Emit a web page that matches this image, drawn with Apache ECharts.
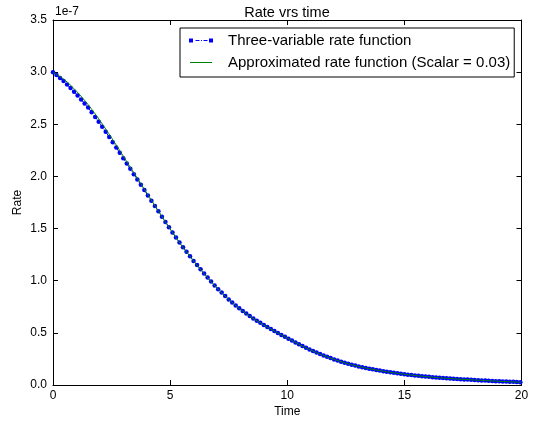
<!DOCTYPE html>
<html>
<head>
<meta charset="utf-8">
<script src="https://cdn.jsdelivr.net/npm/echarts@6/dist/echarts.min.js"></script>
<style>
  html, body { margin: 0; padding: 0; background: #fff; }
  #chart { width: 534px; height: 424px; }
</style>
</head>
<body>
<div id="chart"></div>
<script>
// Sample times of the three-variable model
const timeThreeVar = [
  0, 0.15, 0.3, 0.45, 0.6, 0.75, 0.9, 1.05, 1.2, 1.35,
  1.5, 1.65, 1.8, 1.95, 2.1, 2.25, 2.4, 2.55, 2.7, 2.85,
  3, 3.15, 3.3, 3.45, 3.6, 3.75, 3.9, 4.05, 4.2, 4.35,
  4.5, 4.65, 4.8, 4.95, 5.1, 5.25, 5.4, 5.55, 5.7, 5.85,
  6, 6.15, 6.3, 6.45, 6.6, 6.75, 6.9, 7.05, 7.2, 7.35,
  7.5, 7.65, 7.8, 7.95, 8.1, 8.25, 8.4, 8.55, 8.7, 8.85,
  9, 9.15, 9.3, 9.45, 9.6, 9.75, 9.9, 10.05, 10.2, 10.35,
  10.5, 10.65, 10.8, 10.95, 11.1, 11.25, 11.4, 11.55, 11.7, 11.85,
  12, 12.15, 12.3, 12.45, 12.6, 12.75, 12.9, 13.05, 13.2, 13.35,
  13.5, 13.65, 13.8, 13.95, 14.1, 14.25, 14.4, 14.55, 14.7, 14.85,
  15, 15.15, 15.3, 15.45, 15.6, 15.75, 15.9, 16.05, 16.2, 16.35,
  16.5, 16.65, 16.8, 16.95, 17.1, 17.25, 17.4, 17.55, 17.7, 17.85,
  18, 18.15, 18.3, 18.45, 18.6, 18.75, 18.9, 19.05, 19.2, 19.35,
  19.5, 19.65, 19.8, 19.95
];
// Rate of the three-variable model, in units of 1e-7
const rateThreeVar = [
  3.000, 2.972, 2.943, 2.915, 2.882, 2.848, 2.813, 2.777, 2.738, 2.699,
  2.660, 2.615, 2.570, 2.525, 2.477, 2.428, 2.378, 2.328, 2.277, 2.226,
  2.175, 2.124, 2.073, 2.022, 1.971, 1.920, 1.869, 1.818, 1.767, 1.716,
  1.665, 1.614, 1.563, 1.512, 1.463, 1.415, 1.367, 1.321, 1.277, 1.234,
  1.190, 1.150, 1.109, 1.069, 1.030, 0.993, 0.955, 0.919, 0.886, 0.853,
  0.820, 0.792, 0.763, 0.735, 0.709, 0.685, 0.661, 0.638, 0.617, 0.596,
  0.575, 0.556, 0.536, 0.517, 0.498, 0.480, 0.462, 0.444, 0.426, 0.408,
  0.390, 0.374, 0.357, 0.341, 0.325, 0.311, 0.297, 0.283, 0.270, 0.258,
  0.245, 0.235, 0.224, 0.214, 0.204, 0.195, 0.186, 0.178, 0.170, 0.163,
  0.156, 0.150, 0.144, 0.138, 0.132, 0.127, 0.122, 0.117, 0.112, 0.108,
  0.103, 0.099, 0.095, 0.091, 0.088, 0.085, 0.081, 0.078, 0.075, 0.072,
  0.069, 0.067, 0.064, 0.062, 0.060, 0.058, 0.055, 0.053, 0.052, 0.050,
  0.048, 0.046, 0.044, 0.043, 0.041, 0.039, 0.037, 0.036, 0.034, 0.033,
  0.031, 0.030, 0.028, 0.027
];
// Sample times of the approximated rate function
const timeApprox = [
  0, 0.5, 1, 1.5, 2, 2.5, 3, 3.5, 4, 4.5,
  5, 5.5, 6, 6.5, 7, 7.5, 8, 8.5, 9, 9.5,
  10, 10.5, 11, 11.5, 12, 12.5, 13, 13.5, 14, 14.5,
  15, 15.5, 16, 16.5, 17, 17.5, 18, 18.5, 19, 19.5, 20
];
// Approximated rate (Scalar = 0.03), in units of 1e-7
const rateApprox = [
  3.000, 2.925, 2.818, 2.688, 2.537, 2.370, 2.195, 2.018, 1.842, 1.668,
  1.496, 1.335, 1.190, 1.055, 0.930, 0.820, 0.725, 0.645, 0.575, 0.510,
  0.450, 0.390, 0.335, 0.287, 0.245, 0.210, 0.180, 0.156, 0.136, 0.118,
  0.103, 0.090, 0.079, 0.069, 0.061, 0.054, 0.048, 0.042, 0.036, 0.031, 0.026
];
const xTicks = { min: 0, max: 20, interval: 5 };
const yTicks = { min: 0, max: 3.5, interval: 0.5 };

const FONT = 'Liberation Sans, Arial, sans-serif';
const zip = (xs, ys) => xs.map((x, i) => [x, ys[i]]);

const chart = echarts.init(document.getElementById('chart'), null, { renderer: 'canvas' });

// Black frame with short inward ticks on all four sides
function frame() {
  return {
    axisLine: { show: true, onZero: false, lineStyle: { color: '#000', width: 1 } },
    axisTick: { show: true, inside: true, length: 5, lineStyle: { color: '#000', width: 1 } },
    splitLine: { show: false }
  };
}

chart.setOption({
  animation: false,
  backgroundColor: '#fff',
  textStyle: { fontFamily: FONT },
  title: {
    text: 'Rate vrs time',
    left: 282,
    top: 0,
    textAlign: 'center',
    textStyle: { fontFamily: FONT, fontSize: 14.5, fontWeight: 'normal', color: '#000' }
  },
  grid: { left: 53, right: 12.5, top: 20, bottom: 39, containLabel: false },
  xAxis: [
    Object.assign(frame(), {
      type: 'value', position: 'bottom',
      min: xTicks.min, max: xTicks.max, interval: xTicks.interval,
      name: 'Time', nameLocation: 'middle', nameGap: 21, nameMoveOverlap: false,
      nameTextStyle: { fontFamily: FONT, fontSize: 12, color: '#000' },
      axisLabel: { fontFamily: FONT, fontSize: 12, color: '#000', margin: 5, inside: false }
    }),
    Object.assign(frame(), {
      type: 'value', position: 'top',
      min: xTicks.min, max: xTicks.max, interval: xTicks.interval,
      axisLabel: { show: false }
    })
  ],
  yAxis: [
    Object.assign(frame(), {
      type: 'value', position: 'left',
      min: yTicks.min, max: yTicks.max, interval: yTicks.interval,
      name: 'Rate', nameLocation: 'middle', nameGap: 29, nameMoveOverlap: false,
      nameTextStyle: { fontFamily: FONT, fontSize: 12, color: '#000' },
      axisLabel: { fontFamily: FONT, fontSize: 12, color: '#000', margin: 6, inside: false,
                   formatter: v => v.toFixed(1) }
    }),
    Object.assign(frame(), {
      type: 'value', position: 'right',
      min: yTicks.min, max: yTicks.max, interval: yTicks.interval,
      axisLabel: { show: false }
    })
  ],
  legend: {
    orient: 'vertical',
    left: 180,
    top: 28,
    padding: [5, 4, 7, 9],
    itemGap: 7,
    itemWidth: 34,
    itemHeight: 4,
    borderColor: '#000',
    borderWidth: 1,
    borderRadius: 0,
    backgroundColor: '#fff',
    itemStyle: { borderWidth: 0 },
    textStyle: { fontFamily: FONT, fontSize: 15, color: '#000' },
    data: [
      {
        name: 'Three-variable rate function',
        // two dots joined by a dash-dot stroke; the far point only widens the box
        icon: 'path://M0,0h4v4h-4z M6.5,1.5h4v1h-4z M12,1.5h1v1h-1z M14.5,1.5h4v1h-4z M20,0h4v4h-4z M34,0v4'
      },
      {
        name: 'Approximated rate function (Scalar = 0.03)',
        icon: 'path://M0,0v4 M1,1.5h22v1h-22z M34,0v4'
      }
    ]
  },
  series: [
    {
      name: 'Three-variable rate function',
      type: 'line',
      xAxisIndex: 0,
      yAxisIndex: 0,
      data: zip(timeThreeVar, rateThreeVar),
      symbol: 'circle',
      symbolSize: 4.5,
      showSymbol: true,
      color: '#0000ff',
      itemStyle: { color: '#0000ff', borderWidth: 0 },
      lineStyle: { color: '#0000ff', width: 1, type: [5, 2, 1, 2] },
      z: 2
    },
    {
      name: 'Approximated rate function (Scalar = 0.03)',
      type: 'line',
      xAxisIndex: 0,
      yAxisIndex: 0,
      data: zip(timeApprox, rateApprox),
      symbol: 'none',
      smooth: 0.3,
      color: '#008000',
      itemStyle: { color: '#008000', borderWidth: 0 },
      lineStyle: { color: '#008000', width: 1 },
      z: 3
    }
  ],
  graphic: [
    {
      type: 'text',
      left: 55,
      top: 6,
      style: { text: '1e-7', font: '12px ' + FONT, fill: '#000' }
    }
  ]
});
</script>
</body>
</html>
